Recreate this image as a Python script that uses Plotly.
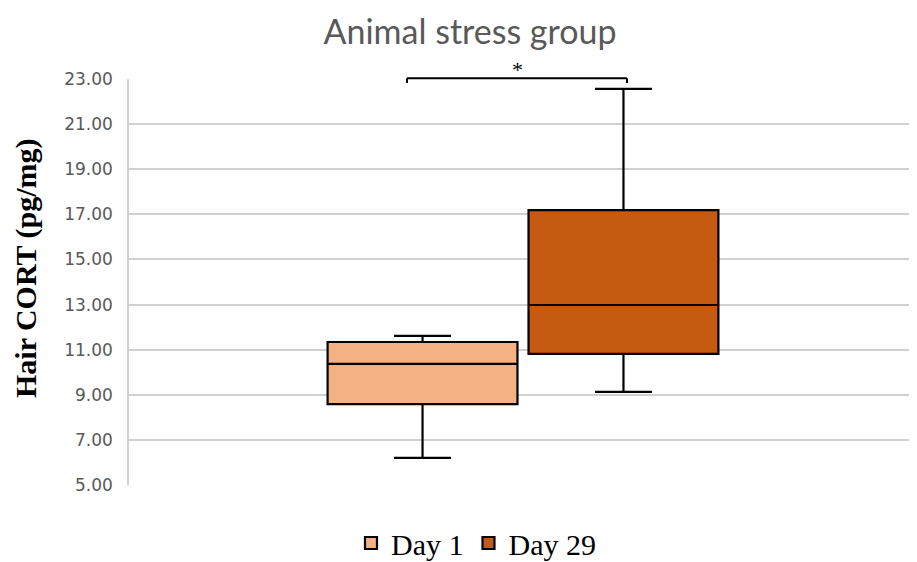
import plotly.graph_objects as go

groups = ["Day 1", "Day 29"]
lower_whisker = [6.20, 9.13]
q1_vals = [8.59, 10.81]
median_vals = [10.37, 12.98]
q3_vals = [11.34, 17.19]
upper_whisker = [11.61, 22.56]
fill_colors = ["#F4B183", "#C55A11"]

y_ticks = [5, 7, 9, 11, 13, 15, 17, 19, 21, 23]
y_range = [5, 23]

fig = go.Figure()
for i, g in enumerate(groups):
    fig.add_trace(go.Box(
        name=g,
        x=["Animal stress group"],
        q1=[q1_vals[i]], median=[median_vals[i]], q3=[q3_vals[i]],
        lowerfence=[lower_whisker[i]], upperfence=[upper_whisker[i]],
        fillcolor=fill_colors[i],
        line=dict(color="black", width=2.2),
        whiskerwidth=0.3,
        boxpoints=False,
        hoverinfo="skip",
    ))

# page body adds an 8px offset, so the figure is 8px smaller than the window
W, H = 909, 554
L, T, B = 121, 71, 77
plot_w, plot_h = W - L, H - T - B

fig.update_layout(
    width=W, height=H,
    paper_bgcolor="white", plot_bgcolor="white",
    boxmode="group", boxgap=0.49, boxgroupgap=0.055,
    margin=dict(l=L, r=0, t=T, b=B, autoexpand=False),
    title=dict(text="Animal stress group", x=462 / W, xanchor="center",
               y=1 - 24 / H, yanchor="middle",
               font=dict(family="Lato", size=34, color="#595959")),
    showlegend=True,
    legend=dict(orientation="h", x=(468 - L) / plot_w, xanchor="center",
                y=-(535 - (T + plot_h)) / plot_h, yanchor="middle",
                font=dict(family="Liberation Serif", size=30, color="black"),
                itemwidth=30),
    xaxis=dict(showticklabels=False, showgrid=False, zeroline=False, showline=False),
    yaxis=dict(range=y_range, tickvals=y_ticks, tickformat=".2f", automargin=False,
               showgrid=True, gridcolor="#d0d0d0", gridwidth=1.5,
               showline=True, linecolor="#d0d0d0", linewidth=1.5,
               zeroline=False, ticklabelstandoff=11,
               tickfont=dict(family="DejaVu Sans", size=17, color="#595959")),
)

# y-axis title as rotated annotation (positioned like the reference)
fig.add_annotation(text="<b>Hair CORT (pg/mg)</b>", textangle=-90,
                   xref="paper", yref="paper",
                   x=(18 - L) / plot_w, xanchor="center",
                   y=1 - (260 - T) / plot_h, yanchor="middle",
                   showarrow=False,
                   font=dict(family="Liberation Serif", size=30, color="black"))

# significance bracket
x0p, x1p = (399 - L) / plot_w, (619 - L) / plot_w
fig.add_shape(type="line", xref="paper", yref="paper", x0=x0p, x1=x1p, y0=1.002, y1=1.002,
              line=dict(color="black", width=2))
for xp in (x0p, x1p):
    fig.add_shape(type="line", xref="paper", yref="paper", x0=xp, x1=xp, y0=1.002, y1=0.99,
                  line=dict(color="black", width=2))
fig.add_annotation(text="*", xref="paper", yref="paper", x=(x0p + x1p) / 2, y=1.0,
                   yanchor="bottom", yshift=-5, showarrow=False,
                   font=dict(family="Liberation Serif", size=22, color="black"))

fig.write_html("out.html")
